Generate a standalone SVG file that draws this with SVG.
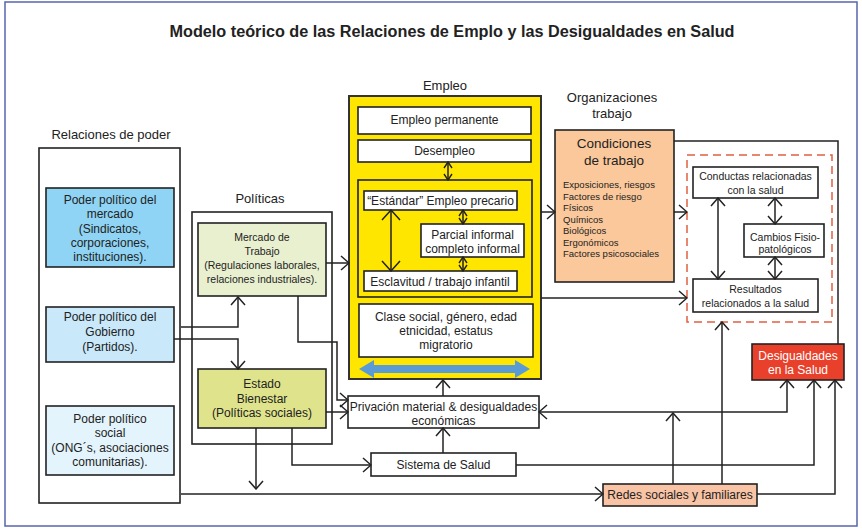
<svg xmlns="http://www.w3.org/2000/svg" width="862" height="529" viewBox="0 0 862 529">
<style>
text{font-family:"Liberation Sans",Arial,sans-serif;fill:#222;text-anchor:middle;dominant-baseline:central}
.t12{font-size:12px}
.t10{font-size:10.5px}
.lbl{font-size:13px}
.small{font-size:9.5px;text-anchor:start}
.box{stroke:#222;stroke-width:1.6}
.c{fill:none;stroke:#222;stroke-width:1.5}
.arr{marker-end:url(#ah)}
.dbl{marker-start:url(#ah);marker-end:url(#ah)}
.dbls{marker-start:url(#ahs);marker-end:url(#ahs)}
.dblb{marker-start:url(#ahb);marker-end:url(#ahb)}
</style>
<defs>
<marker id="ah" viewBox="0 0 10 16" refX="9" refY="8" markerWidth="10" markerHeight="16" markerUnits="userSpaceOnUse" orient="auto-start-reverse">
<path d="M1,1 L9,8 L1,15" fill="none" stroke="#222" stroke-width="1.5"/>
</marker>
<marker id="ahs" viewBox="0 0 8 10" refX="7" refY="5" markerWidth="8" markerHeight="10" markerUnits="userSpaceOnUse" orient="auto-start-reverse">
<path d="M1,1 L7,5 L1,9" fill="none" stroke="#222" stroke-width="1.4"/>
</marker>
<marker id="ahb" viewBox="0 0 12 20" refX="11" refY="10" markerWidth="12" markerHeight="20" markerUnits="userSpaceOnUse" orient="auto-start-reverse">
<path d="M1,1 L11,10 L1,19" fill="none" stroke="#222" stroke-width="1.5"/>
</marker>
</defs>
<rect x="0" y="0" width="862" height="529" fill="#fff"/>
<rect x="5" y="2" width="852" height="524" fill="#fff" stroke="#5565ad" stroke-width="1.5"/>
<text x="452" y="31" textLength="565" lengthAdjust="spacingAndGlyphs" style="font-size:16px;font-weight:bold">Modelo teórico de las Relaciones de Emplo y las Desigualdades en Salud</text>

<g id="relaciones-poder">
<text class="lbl" x="111" y="134">Relaciones de poder</text>
<rect class="box" x="39" y="148" width="141" height="355" fill="#fff"/>
</g>
<g id="poder-mercado">
<rect class="box" x="46" y="188" width="128" height="79" fill="#8fd4f4"/>
<text class="t12" x="110" y="200">Poder político del</text>
<text class="t12" x="110" y="214">mercado</text>
<text class="t12" x="110" y="229">(Sindicatos,</text>
<text class="t12" x="110" y="243">corporaciones,</text>
<text class="t12" x="110" y="257">instituciones).</text>
</g>
<g id="poder-gobierno">
<rect class="box" x="46" y="307" width="128" height="55" fill="#c9e8fa"/>
<text class="t12" x="110" y="317">Poder político del</text>
<text class="t12" x="110" y="332">Gobierno</text>
<text class="t12" x="110" y="347">(Partidos).</text>
</g>
<g id="poder-social">
<rect class="box" x="46" y="406" width="128" height="69" fill="#e4f4fc"/>
<text class="t12" x="110" y="419">Poder político</text>
<text class="t12" x="110" y="433">social</text>
<text class="t12" x="110" y="448">(ONG´s, asociaciones</text>
<text class="t12" x="110" y="462">comunitarias).</text>
</g>

<g id="politicas">
<text class="lbl" x="260" y="198">Políticas</text>
<rect class="box" x="192" y="212" width="140" height="232" fill="none"/>
</g>
<g id="mercado-trabajo">
<rect class="box" x="198" y="223" width="128" height="73" fill="#e9f0d0"/>
<text class="t10" x="262" y="237">Mercado de</text>
<text class="t10" x="262" y="251">Trabajo</text>
<text class="t10" x="262" y="265">(Regulaciones laborales,</text>
<text class="t10" x="262" y="279">relaciones industriales).</text>
</g>
<g id="estado-bienestar">
<rect class="box" x="198" y="369" width="128" height="59" fill="#dfe48c"/>
<text class="t12" x="262" y="384">Estado</text>
<text class="t12" x="262" y="399">Bienestar</text>
<text class="t12" x="262" y="413">(Políticas sociales)</text>
</g>

<g id="empleo">
<text class="lbl" x="445" y="85">Empleo</text>
<rect x="349" y="96" width="192" height="283" fill="#ffe600" stroke="#333" stroke-width="2"/>
</g>
<g id="empleo-permanente">
<rect class="box" x="358" y="107" width="173" height="27" fill="#fff"/>
<text class="t12" x="444.5" y="120">Empleo permanente</text>
</g>
<g id="desempleo">
<rect class="box" x="358" y="140" width="173" height="22" fill="#fff"/>
<text class="t12" x="444.5" y="151">Desempleo</text>
</g>
<g id="empleo-precario-grupo">
<rect class="box" x="358" y="180" width="174" height="117" fill="none"/>
</g>
<g id="estandar">
<rect class="box" x="364" y="191" width="153" height="19" fill="#fff"/>
<text class="t12" x="440.5" y="200.5">“Estándar” Empleo precario</text>
</g>
<g id="parcial">
<rect class="box" x="421" y="224" width="103" height="33" fill="#fff"/>
<text class="t12" x="472.5" y="235">Parcial informal</text>
<text class="t12" x="472.5" y="249">completo informal</text>
</g>
<g id="esclavitud">
<rect class="box" x="364" y="271" width="153" height="20" fill="#fff"/>
<text class="t12" x="440" y="281.5">Esclavitud / trabajo infantil</text>
</g>
<g id="clase-social">
<rect class="box" x="359" y="304" width="174" height="53" fill="#fff"/>
<text class="t12" x="446" y="317">Clase social, género, edad</text>
<text class="t12" x="446" y="331">etnicidad, estatus</text>
<text class="t12" x="446" y="345">migratorio</text>
</g>
<g id="flecha-azul">
<polygon points="359,369 374,360 374,365 515,365 515,360 530,369 515,378 515,373 374,373 374,378" fill="#5b9bd5"/>
</g>

<g id="organizaciones">
<text class="lbl" x="612" y="97">Organizaciones</text>
<text class="lbl" x="612" y="113">trabajo</text>
</g>
<g id="condiciones">
<rect class="box" x="555" y="130" width="119" height="152" fill="#fbc89b"/>
<text x="614" y="143" style="font-size:13.5px">Condiciones</text>
<text x="614" y="160" style="font-size:13.5px">de trabajo</text>
<text class="small" x="563" y="184">Exposiciones, riesgos</text>
<text class="small" x="563" y="196">Factores de riesgo</text>
<text class="small" x="563" y="207">Físicos</text>
<text class="small" x="563" y="219">Químicos</text>
<text class="small" x="563" y="230">Biológicos</text>
<text class="small" x="563" y="242">Ergonómicos</text>
<text class="small" x="563" y="253">Factores psicosociales</text>
</g>

<g id="resultados-salud">
<rect x="687" y="155" width="145" height="167" fill="none" stroke="#e06040" stroke-width="1.5" stroke-dasharray="8,5"/>
</g>
<g id="conductas">
<rect class="box" x="693" y="167" width="125" height="31" fill="#fff"/>
<text class="t10" x="755.5" y="176">Conductas relacionadas</text>
<text class="t10" x="755.5" y="190">con la salud</text>
</g>
<g id="cambios">
<rect class="box" x="744" y="224" width="80" height="33" fill="#fff"/>
<text class="t10" x="785" y="237">Cambios Fisio-</text>
<text class="t10" x="785" y="249">patológicos</text>
</g>
<g id="resultados">
<rect class="box" x="693" y="279" width="125" height="33" fill="#fff"/>
<text class="t10" x="755.5" y="289">Resultados</text>
<text class="t10" x="755.5" y="303">relacionados a la salud</text>
</g>

<g id="desigualdades">
<rect class="box" x="752" y="344" width="92" height="36" fill="#e8402a"/>
<text class="t12" x="798" y="356" style="fill:#fff">Desigualdades</text>
<text class="t12" x="798" y="370" style="fill:#fff">en la Salud</text>
</g>
<g id="privacion">
<rect class="box" x="348" y="396" width="191" height="32" fill="#fff"/>
<text class="t12" x="443.5" y="407">Privación material &amp; desigualdades</text>
<text class="t12" x="443.5" y="421">económicas</text>
</g>
<g id="sistema-salud">
<rect class="box" x="371" y="453" width="145" height="23" fill="#fff"/>
<text class="t12" x="443.5" y="465">Sistema de Salud</text>
</g>
<g id="redes">
<rect class="box" x="603" y="484" width="154" height="22" fill="#f9c3a5"/>
<text class="t12" x="680" y="495">Redes sociales y familiares</text>
</g>

<g id="connectors">
<polyline class="c arr" points="181,327 238,327 238,297"/>
<polyline class="c arr" points="174,339 238,339 238,369"/>
<polyline class="c arr" points="326,263 349,263"/>
<polyline class="c arr" points="298,296 298,342 337,342 337,400 348,400"/>
<polyline class="c arr" points="326,412 348,412"/>
<polyline class="c arr" points="256,428 256,489"/>
<polyline class="c arr" points="292,428 292,465 371,465"/>
<polyline class="c arr" points="181,494 603,494"/>
<polyline class="c arr" points="443,453 443,428"/>
<polyline class="c arr" points="443,396 443,380"/>
<polyline class="c arr" points="541,212 555,212"/>
<polyline class="c arr" points="541,298 687,298"/>
<polyline class="c arr" points="674,212 687,212"/>
<polyline class="c" points="674,141 838,141 838,344"/>
<polyline class="c arr" points="516,465 814,465 814,380"/>
<polyline class="c dbl" points="539,412 787,412 787,380"/>
<polyline class="c arr" points="673,484 673,413"/>
<polyline class="c arr" points="722,484 722,322"/>
<polyline class="c arr" points="757,494 835,494 835,380"/>
<line class="c dbls" x1="448" y1="162" x2="448" y2="180"/>
<line class="c dbls" x1="463" y1="210" x2="463" y2="224"/>
<line class="c dbls" x1="463" y1="257" x2="463" y2="271"/>
<line class="c dblb" x1="391" y1="210" x2="391" y2="271"/>
<line class="c dbl" x1="718" y1="198" x2="718" y2="279"/>
<line class="c dbl" x1="775" y1="198" x2="775" y2="224"/>
<line class="c dbl" x1="775" y1="257" x2="775" y2="279"/>
</g>
</svg>
